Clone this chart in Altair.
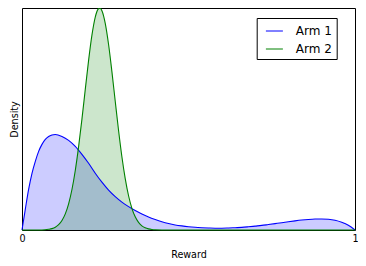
import altair as alt
import pandas as pd

series = ["Arm 1", "Arm 2"]
colors = ["#0000ff", "#008000"]
x_ticks = [0, 1]

arm1_reward = [0.00, 0.01, 0.02, 0.03, 0.04, 0.05, 0.06, 0.07, 0.08, 0.09, 0.10,
               0.12, 0.14, 0.16, 0.18, 0.20, 0.22, 0.24, 0.26, 0.28, 0.30,
               0.32, 0.34, 0.36, 0.38, 0.40, 0.42, 0.44, 0.46, 0.48, 0.50,
               0.52, 0.54, 0.56, 0.58, 0.60, 0.62, 0.64, 0.66, 0.68, 0.70,
               0.72, 0.74, 0.76, 0.78, 0.80, 0.82, 0.84, 0.86, 0.88, 0.90,
               0.92, 0.94, 0.96, 0.98, 1.00]
arm1_density = [0, 21, 41, 57, 69, 79, 86, 91, 94, 95.5, 96,
                94, 90, 84, 76, 67, 57, 48, 40, 33.5, 28,
                23.5, 19.5, 16, 13, 10.5, 8.3, 6.5, 5.1, 4.1, 3.3,
                2.7, 2.3, 2.0, 1.8, 1.8, 2.0, 2.3, 2.6, 3.2, 3.9,
                4.6, 5.5, 6.4, 7.3, 8.3, 9.2, 10.0, 10.6, 11.0, 11.1,
                10.8, 9.8, 7.8, 4.8, 0]

arm2_reward = [0.00, 0.06, 0.08, 0.09, 0.10, 0.11, 0.12, 0.13, 0.14, 0.15, 0.16,
               0.17, 0.18, 0.19, 0.20, 0.21, 0.22, 0.23, 0.233, 0.24, 0.25,
               0.26, 0.27, 0.28, 0.29, 0.30, 0.31, 0.32, 0.33, 0.34, 0.35,
               0.36, 0.37, 0.38, 0.39, 0.40, 0.44, 1.00]
arm2_density = [0, 0, 0.7, 1.4, 2.8, 5.3, 9.5, 16.2, 26.3, 40.7, 59.8,
                83.7, 111.4, 141.2, 170.4, 195.7, 213.9, 222.5, 223, 220.3, 207.6,
                186.3, 159.1, 129.3, 100, 73.6, 51.6, 34.4, 21.8, 13.2, 7.6,
                4.2, 2.2, 1.1, 0.5, 0.2, 0, 0]

df = pd.concat([
    pd.DataFrame({"arm": series[0], "reward": arm1_reward, "density": arm1_density}),
    pd.DataFrame({"arm": series[1], "reward": arm2_reward, "density": arm2_density}),
])

FONT = "DejaVu Sans"
W, H = 333, 222

x = alt.X(
    "reward:Q",
    scale=alt.Scale(domain=[0, 1], nice=False),
    axis=alt.Axis(
        values=x_ticks, title="Reward", format="d",
        ticks=False, domain=False, grid=False, labelFlush=False,
        labelFont=FONT, labelFontSize=9.6, labelColor="black",
        labelBaseline="alphabetic", labelPadding=11.5,
        titleFont=FONT, titleFontSize=9.6, titleFontWeight="normal", titleColor="black",
        titleX=W / 2, titleY=27, titleBaseline="alphabetic", titleAlign="center",
    ),
)
y = alt.Y(
    "density:Q",
    stack=None,
    scale=alt.Scale(domain=[0, 223], nice=False),
    axis=alt.Axis(
        title="Density", labels=False, ticks=False, domain=False, grid=False,
        titleFont=FONT, titleFontSize=9.6, titleFontWeight="normal", titleColor="black",
        titleX=-5.0, titleY=H / 2, titleAngle=270, titleBaseline="alphabetic", titleAlign="center",
    ),
)

base = alt.Chart(df)

area_layers = [
    base.transform_filter(alt.datum.arm == name)
    .mark_area(opacity=0.2, interpolate="monotone", color=col)
    .encode(x=x, y=y)
    for name, col in zip(series, colors)
]

lines = base.mark_line(strokeWidth=1.1, interpolate="monotone").encode(
    x=x, y=y,
    stroke=alt.Stroke(
        "arm:N",
        scale=alt.Scale(domain=series, range=colors),
        legend=alt.Legend(
            title=None, orient="none", legendX=234.7, legendY=10,
            symbolType="stroke", symbolSize=289, symbolStrokeWidth=1,
            labelFont=FONT, labelFontSize=12, labelColor="black",
            padding=4, symbolOffset=4.7, labelOffset=12.3, rowPadding=3,
            strokeColor="black", fillColor="white", cornerRadius=0,
        ),
    ),
)

chart = alt.layer(*area_layers, lines).properties(
    width=W, height=H,
    autosize=alt.AutoSizeParams(type="none"),
    padding={"left": 14, "top": 0, "right": 3, "bottom": 30},
).configure_view(stroke="black", strokeWidth=1)

chart.save("out.html", embed_options={"renderer": "svg", "actions": False})
